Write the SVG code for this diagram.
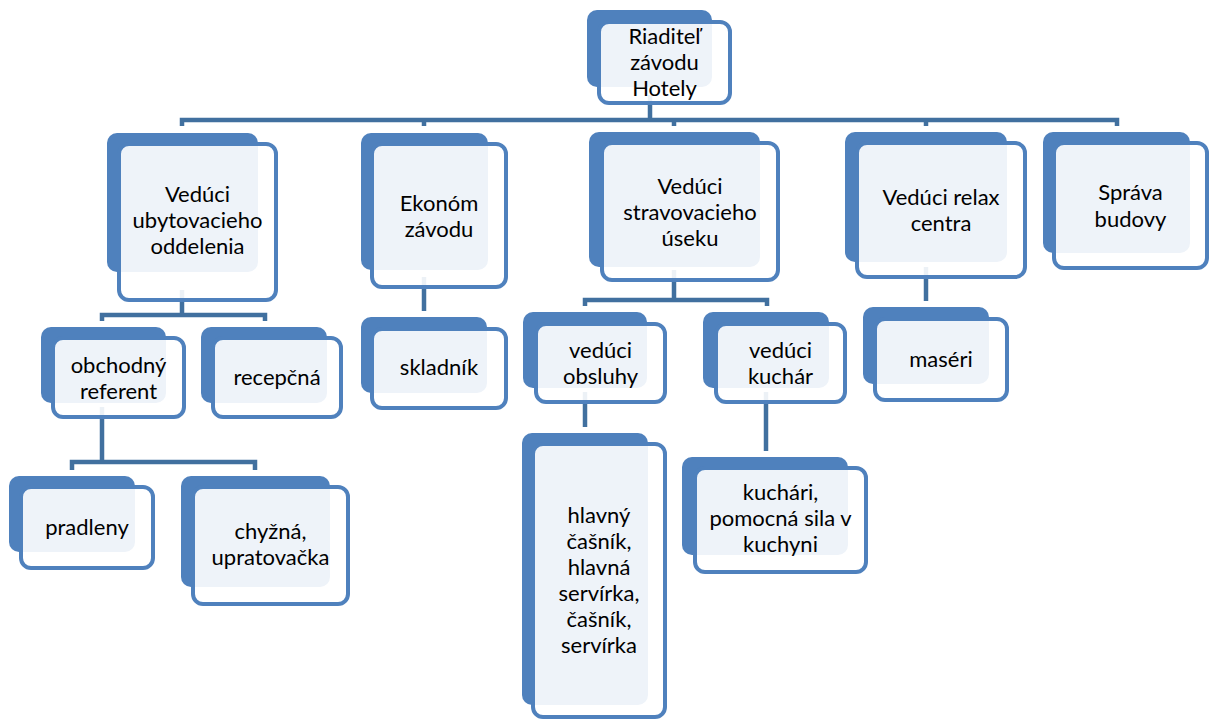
<svg xmlns="http://www.w3.org/2000/svg" width="1209" height="720" viewBox="0 0 1209 720">
<style>
.bk{fill:#4f81bd}
.fr{fill:#ffffff;fill-opacity:0.9;stroke:#4f81bd;stroke-width:4}
.t{font-family:Lato,"Liberation Sans",sans-serif;font-size:22px;fill:#000;text-anchor:middle}
.c{fill:none;stroke:#41709f;stroke-width:4.5}
</style>
<rect width="1209" height="720" fill="#ffffff"/>
<g id="connectors">
<path class="c" d="M650 95V120M182 126V120H1117V126M424 120V126M674 120V126M926 120V126"/>
<path class="c" d="M182 290V315M102 321V315H265V321"/>
<path class="c" d="M102 407V462M72 470V462H255V470"/>
<path class="c" d="M424 277V311"/>
<path class="c" d="M674 270V300M585 306V300H767V306"/>
<path class="c" d="M585 392V427"/>
<path class="c" d="M766 392V451"/>
<path class="c" d="M926 267V301"/>
</g>
<g id="n_top">
<rect class="bk" x="587" y="10" width="125" height="77" rx="10"/>
<rect class="fr" x="599" y="22" width="131" height="81" rx="10"/>
<text class="t" x="664.5"><tspan x="664.5" y="44">Riaditeľ</tspan><tspan x="664.5" y="70">závodu</tspan><tspan x="664.5" y="96">Hotely</tspan></text>
</g>
<g id="n_ubyt">
<rect class="bk" x="107" y="133" width="151" height="139" rx="10"/>
<rect class="fr" x="119" y="144" width="157" height="156" rx="10"/>
<text class="t"><tspan x="197.5" y="202">Vedúci</tspan><tspan x="197.5" y="228">ubytovacieho</tspan><tspan x="197.5" y="254">oddelenia</tspan></text>
</g>
<g id="n_ekonom">
<rect class="bk" x="361" y="133" width="127" height="137" rx="10"/>
<rect class="fr" x="372" y="144" width="134" height="143" rx="10"/>
<text class="t"><tspan x="439" y="210.5">Ekonóm</tspan><tspan x="439" y="236.5">závodu</tspan></text>
</g>
<g id="n_strav">
<rect class="bk" x="589" y="132" width="171" height="135" rx="10"/>
<rect class="fr" x="602" y="143" width="176" height="137" rx="10"/>
<text class="t"><tspan x="690" y="194">Vedúci</tspan><tspan x="690" y="220">stravovacieho</tspan><tspan x="690" y="246">úseku</tspan></text>
</g>
<g id="n_relax">
<rect class="bk" x="845" y="132" width="162" height="130" rx="10"/>
<rect class="fr" x="857" y="143" width="168" height="134" rx="10"/>
<text class="t"><tspan x="941" y="205">Vedúci relax</tspan><tspan x="941" y="231">centra</tspan></text>
</g>
<g id="n_sprava">
<rect class="bk" x="1043" y="132" width="147" height="121" rx="10"/>
<rect class="fr" x="1054" y="143" width="153" height="125" rx="10"/>
<text class="t"><tspan x="1130.5" y="200">Správa</tspan><tspan x="1130.5" y="226.5">budovy</tspan></text>
</g>
<g id="n_obch">
<rect class="bk" x="41" y="327" width="125" height="76" rx="10"/>
<rect class="fr" x="53" y="338" width="131" height="79" rx="10"/>
<text class="t"><tspan x="118.5" y="373">obchodný</tspan><tspan x="118.5" y="399">referent</tspan></text>
</g>
<g id="n_recep">
<rect class="bk" x="201" y="327" width="126" height="76" rx="10"/>
<rect class="fr" x="213" y="338" width="128" height="79" rx="10"/>
<text class="t" x="277" y="385">recepčná</text>
</g>
<g id="n_sklad">
<rect class="bk" x="361" y="317" width="126" height="76" rx="10"/>
<rect class="fr" x="372" y="329" width="134" height="79" rx="10"/>
<text class="t" x="439" y="375">skladník</text>
</g>
<g id="n_obsl">
<rect class="bk" x="523" y="312" width="124" height="76" rx="10"/>
<rect class="fr" x="536" y="324" width="129" height="78" rx="10"/>
<text class="t"><tspan x="600.5" y="358">vedúci</tspan><tspan x="600.5" y="384">obsluhy</tspan></text>
</g>
<g id="n_kuchar">
<rect class="bk" x="703" y="312" width="126" height="76" rx="10"/>
<rect class="fr" x="716" y="324" width="129" height="78" rx="10"/>
<text class="t"><tspan x="780.5" y="358">vedúci</tspan><tspan x="780.5" y="384">kuchár</tspan></text>
</g>
<g id="n_maseri">
<rect class="bk" x="863" y="307" width="126" height="77" rx="10"/>
<rect class="fr" x="875" y="319" width="132" height="81" rx="10"/>
<text class="t" x="941" y="367">maséri</text>
</g>
<g id="n_prad">
<rect class="bk" x="9" y="476" width="126" height="76" rx="10"/>
<rect class="fr" x="21" y="487" width="132" height="81" rx="10"/>
<text class="t" x="87" y="535">pradleny</text>
</g>
<g id="n_chyz">
<rect class="bk" x="181" y="476" width="149" height="111" rx="10"/>
<rect class="fr" x="193" y="487" width="155" height="117" rx="10"/>
<text class="t"><tspan x="270.5" y="539">chyžná,</tspan><tspan x="270.5" y="565">upratovačka</tspan></text>
</g>
<g id="n_casnik">
<rect class="bk" x="522" y="433" width="126" height="272" rx="10"/>
<rect class="fr" x="533" y="444" width="132" height="273" rx="10"/>
<text class="t"><tspan x="599" y="523">hlavný</tspan><tspan x="599" y="549">čašník,</tspan><tspan x="599" y="575">hlavná</tspan><tspan x="599" y="601">servírka,</tspan><tspan x="599" y="627">čašník,</tspan><tspan x="599" y="653">servírka</tspan></text>
</g>
<g id="n_kuchari">
<rect class="bk" x="682" y="457" width="166" height="98" rx="10"/>
<rect class="fr" x="695" y="468" width="171" height="104" rx="10"/>
<text class="t"><tspan x="780.5" y="500">kuchári,</tspan><tspan x="780.5" y="526">pomocná sila v</tspan><tspan x="780.5" y="552">kuchyni</tspan></text>
</g>
</svg>
